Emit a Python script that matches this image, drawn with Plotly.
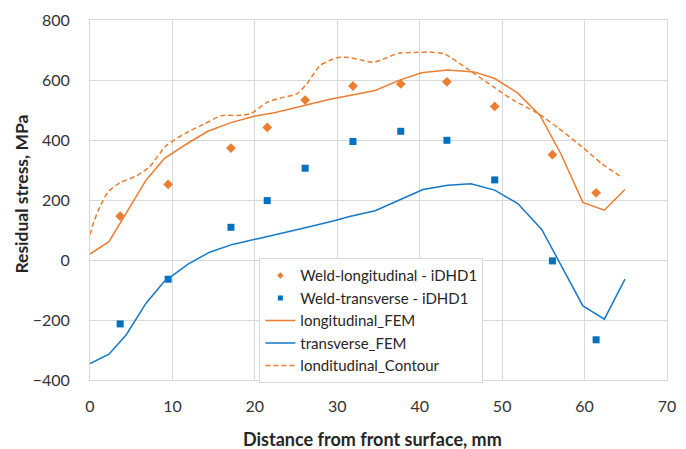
import plotly.graph_objects as go

# Hole-drilling (iDHD1) measurements
idhd_x = [3.66, 9.48, 17.1, 21.5, 26.1, 31.9, 37.7, 43.3, 49.1, 56.1, 61.4]
weld_long = [146, 252, 373, 442, 533, 580, 587, 594, 512, 351, 224]
weld_trans = [-213, -64, 109, 198, 306, 395, 429, 399, 267, -3, -266]

# FEM predictions
fem_long_x = [0, 2.3, 6.8, 9.0, 11.9, 14.3, 17.1, 19.9, 22.5, 26.3, 29.1, 31.5, 34.6,
              37.4, 40.2, 43.4, 46.6, 49.1, 51.9, 54.6, 57.1, 59.8, 62.4, 64.9]
fem_long = [20, 61, 266, 338, 390, 429, 458, 479, 492, 516, 536, 548, 565,
            598, 624, 633, 627, 605, 556, 482, 355, 192, 166, 235]

fem_trans_x = [0, 2.3, 4.4, 6.8, 9.0, 11.9, 14.5, 17.3, 20.5, 23.5, 26.5, 29.5, 31.5,
               34.6, 37.4, 40.4, 43.4, 46.2, 49.1, 51.9, 54.8, 59.8, 62.4, 64.9]
fem_trans = [-345, -314, -249, -144, -72, -14, 26, 52, 72, 90, 110, 130, 145,
             164, 199, 235, 249, 254, 233, 188, 102, -153, -197, -64]

# Contour-method profile
contour_x = [0, 0.5, 1.2, 2.2, 3.6, 5.6, 7.2, 9.2, 11.6, 13.9, 15.9, 17.9, 19.5, 21.5,
             23.5, 25.1, 26.3, 27.9, 29.9, 31.1, 32.7, 34.3, 35.8, 37.4, 39.3, 41.2,
             43.0, 45.8, 49.0, 51.4, 54.2, 56.9, 59.7, 62.1, 64.6]
contour = [85, 130, 177, 227, 257, 280, 310, 380, 423, 454, 481, 482, 488, 526,
           543, 554, 587, 648, 674, 676, 668, 659, 672, 689, 692, 693,
           687, 637, 576, 532, 491, 438, 377, 321, 274]

ORANGE = "#ED7D31"
BLUE = "#0070C0"
LINE_BLUE = "#1478C8"
GRID = "#D9D9D9"
FONT = "Lato"

fig = go.Figure()

# Measured points (legend entries below use smaller swatches)
fig.add_trace(go.Scatter(x=idhd_x, y=weld_long, mode="markers",
                         name="Weld-longitudinal - iDHD1", showlegend=False,
                         legendgroup="wl",
                         marker=dict(symbol="diamond", size=7.5, color=ORANGE)))
fig.add_trace(go.Scatter(x=idhd_x, y=weld_trans, mode="markers",
                         name="Weld-transverse - iDHD1", showlegend=False,
                         legendgroup="wt",
                         marker=dict(symbol="square", size=7, color=BLUE)))

# Legend swatches for the measured series
fig.add_trace(go.Scatter(x=[None], y=[None], mode="markers",
                         name="Weld-longitudinal - iDHD1", legendgroup="wl",
                         marker=dict(symbol="diamond", size=5, color=ORANGE)))
fig.add_trace(go.Scatter(x=[None], y=[None], mode="markers",
                         name="Weld-transverse - iDHD1", legendgroup="wt",
                         marker=dict(symbol="square", size=5, color=BLUE)))

fig.add_trace(go.Scatter(x=fem_long_x, y=fem_long, mode="lines",
                         name="longitudinal_FEM",
                         line=dict(color=ORANGE, width=1.5)))
fig.add_trace(go.Scatter(x=fem_trans_x, y=fem_trans, mode="lines",
                         name="transverse_FEM",
                         line=dict(color=LINE_BLUE, width=1.5)))
fig.add_trace(go.Scatter(x=contour_x, y=contour, mode="lines",
                         name="londitudinal_Contour",
                         line=dict(color=ORANGE, width=1.5, dash="5px,3px",
                                   shape="spline", smoothing=0.6)))

fig.update_layout(
    width=686, height=449,
    margin=dict(l=90, r=10, t=19, b=69),
    paper_bgcolor="white", plot_bgcolor="white",
    font=dict(family=FONT, size=15, color="#262626"),
    showlegend=True,
    legend=dict(x=(262 - 90) / 586, y=(380 - 258) / 361, xanchor="left", yanchor="top",
                bgcolor="white", bordercolor=GRID, borderwidth=1,
                font=dict(size=15, color="#262626"),
                tracegroupgap=0, itemwidth=30),
    xaxis=dict(range=[0, 70], dtick=10, showgrid=True, gridcolor=GRID,
               zeroline=False, showline=True, linecolor=GRID, mirror=True,
               ticks="", ticklabelstandoff=12,
               tickfont=dict(size=16, color="#333333")),
    yaxis=dict(range=[-400, 800], dtick=200, showgrid=True, gridcolor=GRID,
               zeroline=True, zerolinecolor=GRID, zerolinewidth=1,
               showline=True, linecolor=GRID, mirror=True,
               ticks="", ticklabelstandoff=16,
               tickfont=dict(size=16, color="#333333")),
    annotations=[
        dict(text="<b>Distance from front surface, mm</b>", xref="paper", yref="paper",
             x=(377 - 90) / 586, y=-(439 - 380) / 361, xanchor="center", yanchor="middle",
             showarrow=False, font=dict(size=18, color="#262626")),
        dict(text="<b>Residual stress, MPa</b>", xref="paper", yref="paper",
             x=-(90 - 20) / 586, y=(380 - 194) / 361, xanchor="center", yanchor="middle",
             textangle=-90, showarrow=False, font=dict(size=17.5, color="#262626")),
    ],
)

fig.write_html("out.html")
